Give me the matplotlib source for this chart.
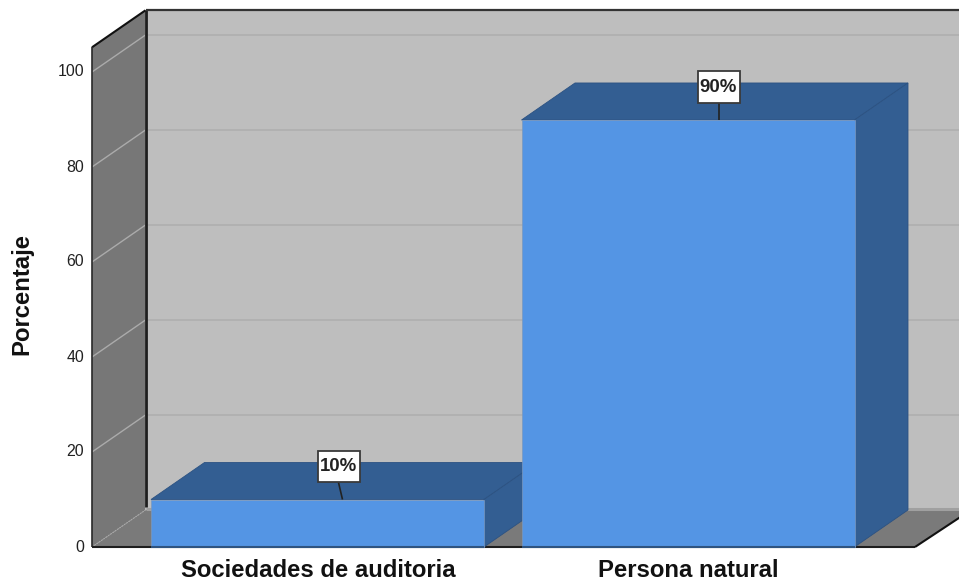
import matplotlib
matplotlib.use("Agg")
import matplotlib.pyplot as plt
from matplotlib.patches import Polygon, Rectangle

categories = ["Sociedades de auditoria", "Persona natural"]
values = [10.0, 89.9]
labels = ["10%", "90%"]
yticks = [0, 20, 40, 60, 80, 100]

W, H = 959, 582
PX = 4.75            # pixels per percent unit
Y0 = 547             # pixel row of value 0
dx = 53.5
dy = 37.0 / PX
x_left = 92.0
x_floor_right = 915
ymax = 105.2
centers = [317.5, 688.0]
width = 333.0

BLUE, DARK = "#5495E4", "#335E92"
WALL, BACK, FLOOR = "#777777", "#BEBEBE", "#7A7A7A"
plt.rcParams["font.family"] = ["Liberation Sans", "DejaVu Sans"]
plt.rcParams["lines.solid_capstyle"] = "butt"

fig = plt.figure(figsize=(W / 100, H / 100), dpi=100)
ax = fig.add_axes([0, 0, 1, 1])
ax.set_xlim(0, W)
ax.set_ylim(-(H - Y0) / PX, Y0 / PX)
ax.axis("off")

xb = x_left + dx
ax.add_patch(Polygon([(xb, dy), (W + 5, dy), (W + 5, ymax + dy), (xb, ymax + dy)],
                     fc=BACK, ec="none", zorder=1))
ax.add_patch(Polygon([(x_left, 0), (xb, dy), (xb, ymax + dy), (x_left, ymax)],
                     fc=WALL, ec="none", zorder=1))
ax.add_patch(Polygon([(x_left, 0), (xb, dy), (W + 12, dy), (x_floor_right, 0)],
                     fc=FLOOR, ec="none", zorder=1))
ax.plot([xb, W + 5], [dy + 0.2, dy + 0.2], color="#A0A0A0", lw=2.2, zorder=2)

for v in yticks:
    if v > 0:
        ax.plot([xb, W + 5], [v + dy, v + dy], color="#AEAEAE", lw=1.1, zorder=2)
        ax.plot([x_left, xb], [v, v + dy], color="#ABABAB", lw=1.0, zorder=2)
ax.plot([x_left, xb], [0, dy], color="#A8A8A8", lw=0.8, ls=(0, (1.5, 1)), zorder=2)

ax.plot([xb, xb], [dy + 0.6, ymax + dy], color="#1E1E1E", lw=2.0, zorder=3)
ax.plot([xb, W + 5], [ymax + dy, ymax + dy], color="#333333", lw=1.6, zorder=3)
ax.plot([x_left, xb], [ymax, ymax + dy], color="#111111", lw=1.5, zorder=3)
ax.plot([x_left, x_left], [0, ymax], color="#2A2A2A", lw=1.2, zorder=3)
ax.plot([x_left, x_floor_right], [0, 0], color="#1E1E1E", lw=1.5, zorder=3)
ax.plot([x_floor_right, W + 12], [0, dy], color="#111111", lw=1.5, zorder=3)

box_w, box_h = 42.0, 31.5 / PX
offsets = [21.0, 30.5]
stems = [4.0, 0.0]
for i, (c, v, lab) in enumerate(zip(centers, values, labels)):
    l, r = c - width / 2, c + width / 2
    z = 4 + i
    ax.add_patch(Polygon([(l, v), (r, v), (r + dx, v + dy), (l + dx, v + dy)],
                         fc=DARK, ec="#2C5282", lw=0.6, zorder=z))
    ax.add_patch(Polygon([(r, 0), (r + dx, dy), (r + dx, v + dy), (r, v)],
                         fc=DARK, ec="#2C5282", lw=0.6, zorder=z))
    ax.add_patch(Polygon([(l, 0), (r, 0), (r, v), (l, v)],
                         fc=BLUE, ec="#7A98BE", lw=0.5, zorder=z + 0.1))
    ax.plot([l, r], [0, 0], color="#2F5480", lw=1.5, zorder=z + 0.2)
    bx = c + offsets[i]
    by = v + 6.9
    ax.plot([bx + stems[i], bx], [v, by - box_h / 2], color="#222222", lw=1.2, zorder=8)
    ax.add_patch(Rectangle((bx - box_w / 2, by - box_h / 2), box_w, box_h,
                           fc="white", ec="#3A3A3A", lw=1.3, zorder=9))
    ax.text(bx, by, lab, ha="center", va="center", fontsize=13.4, fontweight="bold",
            color="#222222", zorder=10)
    ax.text(c + 0.5, -5.05, categories[i], ha="center", va="center", fontsize=17.2,
            fontweight="bold", color="#111111", zorder=9)

for v in yticks:
    ax.text(x_left - 8, v, str(v), ha="right", va="center", fontsize=11.4,
            color="#222222", zorder=9)
ax.text(22, 53.2, "Porcentaje", rotation=90, ha="center", va="center", fontsize=17.2,
        fontweight="bold", color="#111111")

fig.savefig("out.png", dpi=100)
